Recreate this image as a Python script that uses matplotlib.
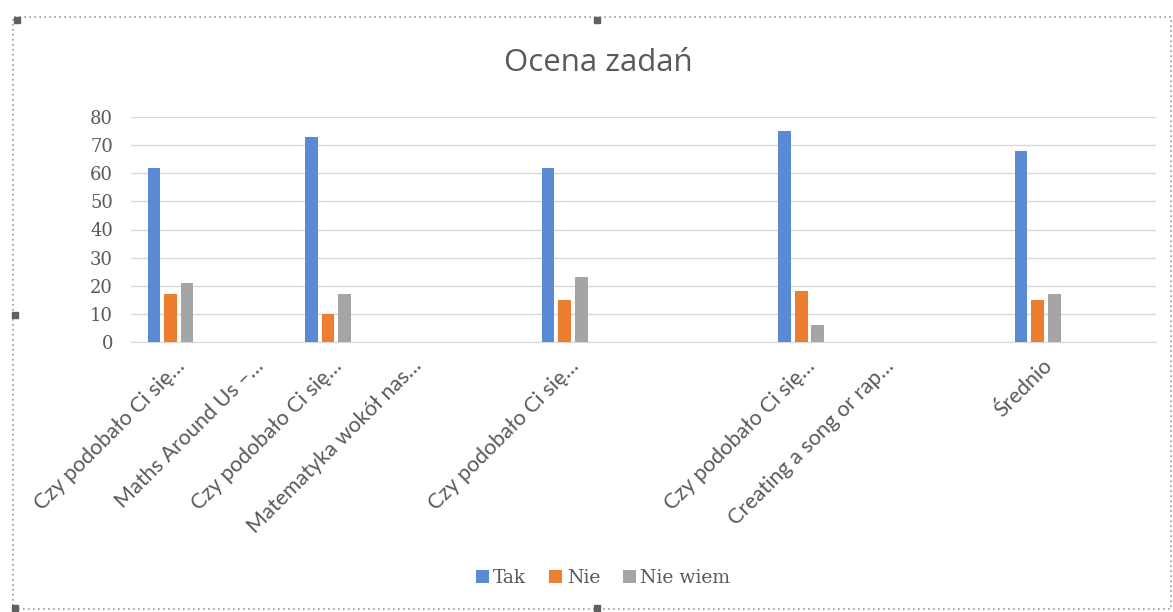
import numpy as np
import matplotlib
matplotlib.use("Agg")
import matplotlib.pyplot as plt
from matplotlib.patches import Rectangle
from matplotlib.transforms import ScaledTranslation

nan = np.nan

categories = ["Czy podobało Ci się…", "Maths Around Us –…", "Czy podobało Ci się…",
              "Matematyka wokół nas…", "", "Czy podobało Ci się…", "", "",
              "Czy podobało Ci się…", "Creating a song or rap…", "", "Średnio", ""]
tak = [62, nan, 73, nan, nan, 62, nan, nan, 75, nan, nan, 68, nan]
nie = [17, nan, 10, nan, nan, 15, nan, nan, 18, nan, nan, 15, nan]
nie_wiem = [21, nan, 17, nan, nan, 23, nan, nan, 6, nan, nan, 17, nan]
series_labels = ["Tak", "Nie", "Nie wiem"]
colors = ["#5A8AD6", "#ED7D31", "#A5A5A5"]
yticks = [0, 10, 20, 30, 40, 50, 60, 70, 80]

text_grey = "#595959"
W, H = 1173, 612
fig = plt.figure(figsize=(W / 100, H / 100), dpi=100)
ax = fig.add_axes([131 / W, 1 - 342 / H, (1156 - 131) / W, 225 / H])

x = np.arange(len(categories))
width = 0.16
step = 0.21
for i, (vals, lab, col) in enumerate(zip([tak, nie, nie_wiem], series_labels, colors)):
    ax.bar(x + (i - 1) * step, vals, width=width, color=col, label=lab, zorder=3)

ax.set_xlim(-0.5, len(categories) - 0.5)
ax.set_ylim(0, 80)
ax.set_yticks(yticks)
ax.set_yticklabels([str(t) for t in yticks], family="DejaVu Serif",
                   fontsize=13, color=text_grey)
ax.grid(axis="y", color="#D9D9D9", linewidth=1, zorder=0)
for side in ["top", "right", "left"]:
    ax.spines[side].set_visible(False)
ax.spines["bottom"].set_color("#D9D9D9")
ax.tick_params(axis="both", length=0)
ax.tick_params(axis="y", pad=13)

ax.set_xticks(x)
ax.set_xticklabels(categories, rotation=45, ha="right", va="center",
                   rotation_mode="anchor", family="Lato", fontsize=15.5,
                   color=text_grey)
ax.tick_params(axis="x", pad=15)
for lbl in ax.get_xticklabels():
    lbl.set_transform(lbl.get_transform() + ScaledTranslation(0.11, 0, fig.dpi_scale_trans))

fig.text(598 / W, 1 - 63 / H, "Ocena zadań", ha="center", va="center",
         family="Open Sans", fontsize=22.5, color=text_grey)

leg = fig.legend(loc="center", bbox_to_anchor=(603 / W, 1 - 578 / H), ncol=3,
                 frameon=False, handlelength=0.7, handleheight=0.7,
                 handletextpad=0.25, columnspacing=1.2,
                 prop={"family": "DejaVu Serif", "size": 13.5})
for t in leg.get_texts():
    t.set_color(text_grey)

# selection frame around the chart object
fig.patches.append(Rectangle((13 / W, 1 - 609 / H), (1171 - 13) / W, (609 - 17) / H,
                             transform=fig.transFigure, fill=False,
                             edgecolor="#9A9A9A", linestyle=(0, (1, 2)), linewidth=1.2))
for hx, hy in [(17, 20), (597, 20), (15, 315), (15, 608), (597, 608)]:
    fig.patches.append(Rectangle(((hx - 3) / W, 1 - (hy + 3) / H), 6 / W, 6 / H,
                                 transform=fig.transFigure, color="#606060"))

fig.savefig("out.png", dpi=100)
